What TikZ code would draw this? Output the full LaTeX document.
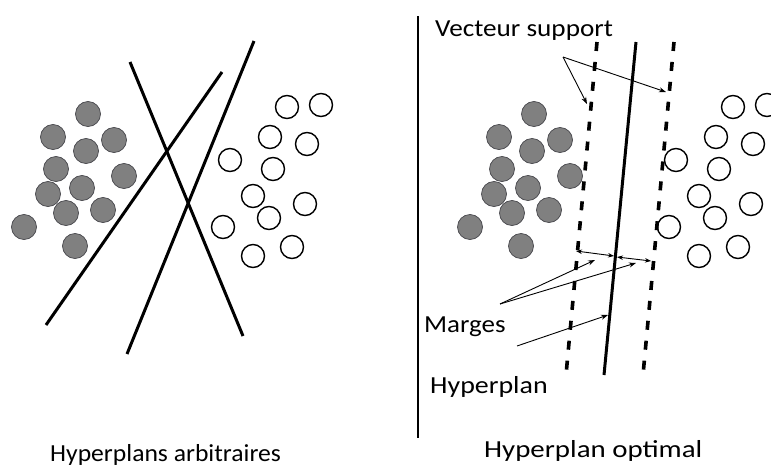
\documentclass[tikz,border=0pt]{standalone}
\usepackage{fontspec}
\setmainfont{Carlito}
\usetikzlibrary{arrows.meta}
\definecolor{dotgray}{RGB}{128,128,128}
\definecolor{dotedge}{RGB}{70,70,75}
\begin{document}
\begin{tikzpicture}[x=1pt,y=-1pt,
  full/.style={circle,fill=dotgray,draw=dotedge,line width=0.7pt,minimum size=25pt,inner sep=0pt},
  hollow/.style={circle,draw=black,line width=1.4pt,minimum size=23pt,inner sep=0pt},
  plane/.style={line width=3pt},
  marginline/.style={line width=3.6pt,dash pattern=on 9pt off 11pt},
  pointer/.style={line width=0.9pt,-{Stealth[length=7pt,width=5pt]}},
  span/.style={line width=0.9pt,{Stealth[length=6pt,width=4.5pt]}-{Stealth[length=6pt,width=4.5pt]}},
  txt/.style={font=\fontsize{24.5}{29}\selectfont,inner sep=0pt,anchor=base west}]
\useasboundingbox (0,0) rectangle (771,466);
\clip (0,0) rectangle (771,466);
\fill[white] (0,0) rectangle (771,466);

% two classes of points, repeated in both panels
\def\darkpts{88/114,53/137,114/140,86/151,56/169,124/176,82/188,48/194,103/210,66/213,24/227,75/246}
\def\lightpts{287/107,321/105,270/137,307/144,230/160,273/169,253/196,305/204,269/218,223/227,292/247,253/256}
\foreach \px/\py [count=\i] in \darkpts {
  \node[full] (da\i) at (\px,\py) {};
  \node[full] (db\i) at (\px+446,\py) {};
}
\foreach \px/\py [count=\i] in \lightpts {
  \node[hollow] (la\i) at (\px,\py) {};
  \node[hollow] (lb\i) at (\px+446,\py) {};
}

% left panel: arbitrary separating lines
\coordinate (h1s) at (130,62);  \coordinate (h1e) at (243,336);
\coordinate (h2s) at (222,72);  \coordinate (h2e) at (46,325);
\coordinate (h3s) at (254,41);  \coordinate (h3e) at (127,354);
\draw[plane] (h1s) -- (h1e);
\draw[plane] (h2s) -- (h2e);
\draw[plane] (h3s) -- (h3e);

% divider
\coordinate (dvt) at (418,16); \coordinate (dvb) at (418,438);
\draw[line width=1.1pt] (dvt) -- (dvb);

% right panel: optimal hyperplane and its margins
\coordinate (ops) at (636,42); \coordinate (ope) at (604,375);
\coordinate (mls) at (597,42); \coordinate (mle) at (566,375);
\coordinate (mrs) at (674,42); \coordinate (mre) at (643,375);
\draw[plane] (ops) -- (ope);
\draw[marginline] (mls) -- (mle);
\draw[marginline] (mrs) -- (mre);

% labels (set slightly wide)
\node[txt] (vs) at (435,36) {\scalebox{1.11}[1]{Vecteur support}};
\node[txt] (mg) at (424,332) {\scalebox{1.10}[1]{Marges}};
\node[txt] (hp) at (430,393) {\scalebox{1.14}[1]{Hyperplan}};
\node[txt] (ta) at (50,461) {\scalebox{1.046}[1]{Hyperplans arbitraires}};
\node[txt] (to) at (484,457) {\scalebox{1.18}[1]{Hyperplan optimal}};

% pointers
\coordinate (vsp) at (563,57);
\coordinate (sv1) at (587,104); \coordinate (sv2) at (666,92);
\draw[pointer] (vsp) -- (sv1);
\draw[pointer] (vsp) -- (sv2);

\coordinate (m1a) at (576,251); \coordinate (m1b) at (614,256);
\coordinate (m2a) at (617,257); \coordinate (m2b) at (651,261);
\draw[span] (m1a) -- (m1b);
\draw[span] (m2a) -- (m2b);

\coordinate (mgp) at (500,304);
\coordinate (mt1) at (595,260); \coordinate (mt2) at (636,263);
\draw[pointer] (mgp) -- (mt1);
\draw[pointer] (mgp) -- (mt2);

\coordinate (hpp) at (517,346); \coordinate (hpt) at (608,315);
\draw[pointer] (hpp) -- (hpt);
\end{tikzpicture}
\end{document}
